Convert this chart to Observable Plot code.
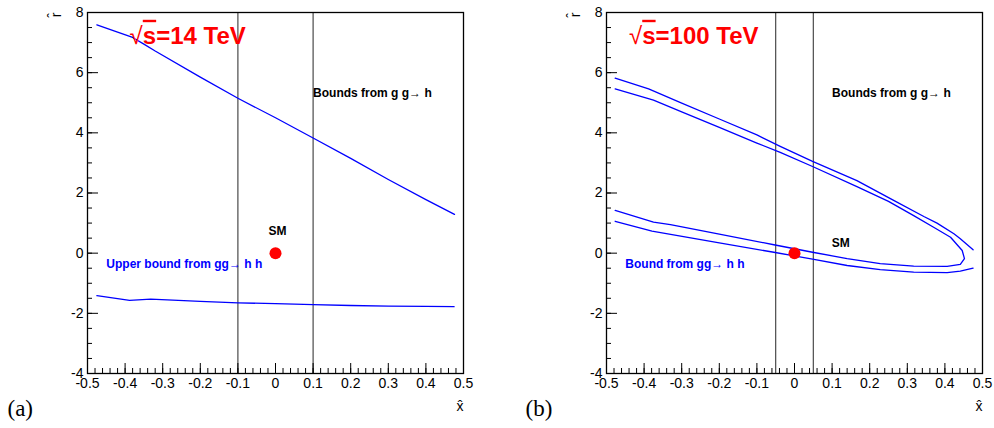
<!DOCTYPE html>
<html><head><meta charset="utf-8">
<script src="https://cdn.jsdelivr.net/npm/d3@7"></script>
<script src="https://cdn.jsdelivr.net/npm/@observablehq/plot@0.6"></script>
<style>
html,body{margin:0;padding:0;background:#fff;overflow:hidden}
#wrap{display:flex;width:994px;height:428px}
#wrap svg{display:block}
</style></head><body><div id="wrap"></div>
<script>
// ---- axis ticks ----
const xTicks = [-0.5,-0.4,-0.3,-0.2,-0.1,0,0.1,0.2,0.3,0.4,0.5];
const xTickLabels = ["-0.5","-0.4","-0.3","-0.2","-0.1","0","0.1","0.2","0.3","0.4","0.5"];
const yTicks = [-4,-2,0,2,4,6,8];
const yTickLabels = ["-4","-2","0","2","4","6","8"];

// ---- panel (a): sqrt(s)=14 TeV ----
const a_ggh_x = [-0.475,-0.42,-0.38,-0.35,-0.32,-0.2,-0.1,0,0.1,0.2,0.3,0.4,0.476];
const a_ggh_y = [7.59,7.35,7.17,6.95,6.72,5.85,5.15,4.5,3.83,3.15,2.45,1.78,1.29];
const a_gghh_x = [-0.475,-0.388,-0.332,-0.2,-0.1,0,0.1,0.2,0.3,0.4,0.475];
const a_gghh_y = [-1.41,-1.57,-1.53,-1.60,-1.65,-1.68,-1.71,-1.74,-1.76,-1.77,-1.78];
const a_bounds = [-0.1, 0.1];

// ---- panel (b): sqrt(s)=100 TeV ----
const b_outerUpper_x = [-0.477,-0.388,-0.3,-0.2,-0.1,-0.038,0.048,0.166,0.26,0.344,0.379,0.424,0.441,0.475];
const b_outerUpper_y = [5.82,5.46,4.99,4.46,3.93,3.55,3.05,2.41,1.78,1.22,1.0,0.645,0.48,0.11];
const b_inner_x = [-0.477,-0.375,-0.3,-0.2,-0.1,-0.038,0.048,0.166,0.25,0.317,0.370,0.415,0.446,0.452,0.441,0.406,0.317,0.228,0.140,0.048,-0.055,-0.2,-0.33,-0.375,-0.477];
const b_inner_y = [5.46,5.09,4.70,4.18,3.66,3.35,2.88,2.21,1.72,1.25,0.86,0.53,0.09,-0.18,-0.37,-0.44,-0.43,-0.35,-0.18,0.03,0.28,0.63,0.95,1.03,1.42];
const b_outerLower_x = [0.475,0.441,0.406,0.317,0.228,0.140,0.048,-0.055,-0.2,-0.379,-0.477];
const b_outerLower_y = [-0.50,-0.60,-0.65,-0.63,-0.55,-0.41,-0.20,0.03,0.34,0.73,1.06];
const b_bounds = [-0.05, 0.05];

const smPoint = [{x: 0, y: 0}];

const FONT = "Liberation Sans, Arial, Helvetica, sans-serif";
const W = 497, H = 428;
const MT = 12, MB = 55;

function toPts(xs, ys) { return xs.map((x, i) => ({x, y: ys[i]})); }

function panel(cfg) {
  const innerW = W - cfg.ml - cfg.mr;
  const innerH = H - MT - MB;
  const xMinor = d3.ticks(-0.5, 0.5, 50);
  const yMinor = d3.ticks(-4, 8, 24);
  const marks = [
    Plot.ruleX(cfg.bounds, {x: d => d, stroke: "#3a3a3a", strokeWidth: 1.1}),
    Plot.tickX(xMinor, {x: d => d, stroke: "black", insetTop: innerH - 5}),
    Plot.tickX(xTicks, {x: d => d, stroke: "black", insetTop: innerH - 10}),
    Plot.tickY(yMinor, {y: d => d, stroke: "black", insetRight: innerW - 5}),
    Plot.tickY(yTicks, {y: d => d, stroke: "black", insetRight: innerW - 11}),
    Plot.axisX({ticks: xTicks, tickSize: 0, tickPadding: 5, fontSize: 14, label: null, tickFormat: d => xTickLabels[xTicks.indexOf(d)]}),
    Plot.axisY({ticks: yTicks, tickSize: 0, tickPadding: 4, fontSize: 14, label: null, tickFormat: d => yTickLabels[yTicks.indexOf(d)]}),
    ...cfg.curves.map(c => Plot.line(c, {x: "x", y: "y", stroke: "#0000ff", strokeWidth: 1.3, curve: "linear"})),
    Plot.dot(smPoint, {x: "x", y: "y", r: 6, fill: "#ff0000", stroke: "none"}),
    Plot.text([cfg.energy], {x: cfg.energyX, y: 6.96, text: d => d, textAnchor: "start", lineAnchor: "bottom", fontSize: 24, fontWeight: "bold", fill: "#ff0000"}),
    Plot.text(["Bounds from g g\u2192 h"], {x: 0.1, y: 5.19, text: d => d, textAnchor: "start", lineAnchor: "bottom", fontSize: 12, fontWeight: "bold", fill: "black"}),
    Plot.text([cfg.hhLabel], {x: -0.45, y: -0.48, text: d => d, textAnchor: "start", lineAnchor: "bottom", fontSize: 12, fontWeight: "bold", fill: "#0000ff"}),
    Plot.text(["SM"], {x: cfg.smX, y: cfg.smY, text: d => d, textAnchor: "middle", lineAnchor: "bottom", fontSize: 12, fontWeight: "bold", fill: "black"}),
    Plot.text(["x\u0302"], {frameAnchor: "bottom-right", text: d => d, textAnchor: "end", lineAnchor: "bottom", dy: 37, fontSize: 14, fill: "black"}),
    Plot.text(["r\u0302"], {frameAnchor: "top-left", text: d => d, rotate: -90, textAnchor: "end", lineAnchor: "bottom", dx: -27, fontSize: 14, fill: "black"}),
    Plot.text([cfg.tag], {frameAnchor: "bottom-left", text: d => d, textAnchor: "start", lineAnchor: "bottom", dx: cfg.tagDx, dy: 42, fontSize: 23, fontFamily: "Liberation Serif, Times New Roman, serif", fill: "black"}),
    Plot.frame({stroke: "black", strokeWidth: 1.3})
  ];
  const svg = Plot.plot({
    width: W, height: H,
    marginLeft: cfg.ml, marginRight: cfg.mr, marginTop: MT, marginBottom: MB,
    x: {domain: [-0.5, 0.5], nice: false, label: null},
    y: {domain: [-4, 8], nice: false, label: null},
    style: {fontFamily: FONT, fontSize: "14px", background: "white", color: "black", overflow: "visible"},
    marks
  });
  // radical sign: thin root symbol + overline on "s"
  d3.select(svg).selectAll("text").filter(function() { return this.textContent.startsWith("\u221a"); }).each(function() {
    const t = this.textContent;
    const sel = d3.select(this);
    sel.text(null);
    sel.append("tspan").attr("font-weight", "normal").text("\u221a");
    sel.append("tspan").attr("text-decoration", "overline").text(t.slice(1, 2));
    sel.append("tspan").text(t.slice(2));
  });
  return svg;
}

const wrap = document.getElementById("wrap");
wrap.appendChild(panel({
  ml: 87, mr: 34, bounds: a_bounds,
  curves: [toPts(a_ggh_x, a_ggh_y), toPts(a_gghh_x, a_gghh_y)],
  energy: "\u221as=14 TeV", energyX: -0.388,
  hhLabel: "Upper bound from gg\u2192 h h",
  smX: 0.005, smY: 0.62, tag: "(a)", tagDx: -80
}));
wrap.appendChild(panel({
  ml: 109, mr: 12, bounds: b_bounds,
  curves: [toPts(b_outerUpper_x, b_outerUpper_y), toPts(b_inner_x, b_inner_y), toPts(b_outerLower_x, b_outerLower_y)],
  energy: "\u221as=100 TeV", energyX: -0.44,
  hhLabel: "Bound from gg\u2192 h h",
  smX: 0.123, smY: 0.2, tag: "(b)", tagDx: -81
}));
</script></body></html>
